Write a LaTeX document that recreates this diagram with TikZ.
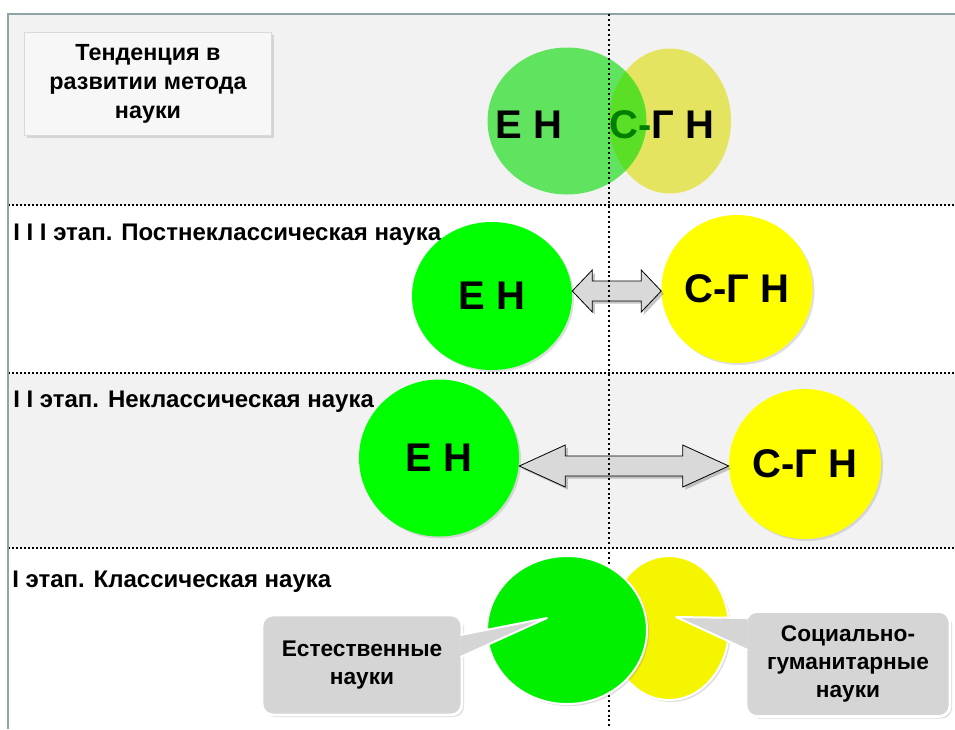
\documentclass[tikz,border=0pt]{standalone}
\usepackage{fontspec}
\setmainfont{Liberation Sans}
\usepackage{xcolor}
\usepackage{tikz}
\usetikzlibrary{calc}
\usetikzlibrary{shapes.geometric}
\usetikzlibrary{shadows}

\definecolor{rowgray}{HTML}{F2F2F2}
\definecolor{framegray}{HTML}{8CA5A5}
\definecolor{softgreen}{RGB}{0,220,0}
\definecolor{softyellow}{RGB}{220,220,0}
\definecolor{limegreen}{HTML}{00FF00}
\definecolor{puryellow}{HTML}{FFFF00}
\definecolor{arrowgray}{HTML}{D9D9D9}
\definecolor{boxgray}{HTML}{D5D5D5}
\definecolor{cgdark}{HTML}{007F00}

\newcommand{\twoway}[3]{
	\draw[blockarrow] (#1) -- ++(#3,-21) -- ++(0,11) -- ($(#2)+(-#3,-10)$) -- ++(0,-11) -- (#2) -- ++(-#3,21) -- ++(0,-11) -- ($(#1)+(#3,10)$) -- ++(0,11) -- cycle;}

\begin{document}
\begin{tikzpicture}[x = 0.75pt, y = -0.75pt,
	oval/.style 2 args = {ellipse, minimum width = #1*0.75pt, minimum height = #2*0.75pt, inner sep = 0pt},
	big/.style = {font = \fontsize{30}{36}\selectfont\bfseries},
	stage/.style = {anchor = north west, inner sep = 0pt, font = \fontsize{18}{21}\selectfont\bfseries},
	soft/.style = {drop shadow = {opacity = 0.25, shadow xshift = 1.5pt, shadow yshift = -1.5pt}},
	sepline/.style = {line width = 1.5pt, dash pattern = on 1.5pt off 1.5pt},
	midline/.style = {line width = 1.3pt, dash pattern = on 1.5pt off 2.2pt},
	blockarrow/.style = {draw = black, line width = 0.6pt, fill = arrowgray, drop shadow = {opacity = 0.45, shadow xshift = 2pt, shadow yshift = -2pt}},
	notebox/.style = {rounded corners = 8pt, fill = boxgray, draw = white, line width = 2.2pt, align = center, font = \fontsize{17}{21}\selectfont\bfseries, drop shadow = {opacity = 0.3, shadow xshift = 1.5pt, shadow yshift = -1.5pt}},
	tail/.style = {fill = boxgray, draw = white, line width = 1.5pt, line join = round}]
	\useasboundingbox (0,0) rectangle (955,729);
	% rows
	\foreach \ya/\yb/\tone in {14/205/rowgray, 205/373/white, 373/548/rowgray, 548/729/white}{
		\fill[\tone] (8,\ya) rectangle (955,\yb);}
	\foreach \y in {205, 373, 548}{
		\draw[sepline] (8,\y) -- (955,\y);}
	\draw[framegray, line width = 1.5pt] (8,729) -- (8,14) -- (955,14);
	% tendency
	\node[draw = black!15, fill = black!3, soft, minimum width = 247*0.75pt, minimum height = 103*0.75pt, align = center, font = \fontsize{17.5}{21.5}\selectfont\bfseries] (trend) at (148,84) {Тенденция в\\развитии метода\\науки};
	\node[oval = {122}{145}, fill = softyellow, fill opacity = 0.6] (sgtop) at (670,121) {};
	\node[oval = {159}{147}, fill = softgreen, fill opacity = 0.6] (entop) at (567,121) {};
	\node[big] (entoplbl) at (529,125) {Е Н};
	\node[big] (sgtoplbl) at (662,125) {\textcolor{cgdark}{С-}Г Н};
	% stage III
	\node[stage] (st3) at (13,224) {I I I этап. Постнеклассическая наука};
	\node[oval = {160}{148}, fill = limegreen, soft, big] (en3) at (492,296) {Е Н};
	\node[oval = {151}{148}, fill = puryellow, soft, big] (sg3) at (737,289) {С-Г Н};
	\coordinate (ax3) at (617,291);
	\twoway{en3.east |- ax3}{sg3.west |- ax3}{20}
	% stage II
	\node[stage] (st2) at (13,391) {I I этап. Неклассическая наука};
	\node[oval = {160}{157}, fill = limegreen, soft, big] (en2) at (439,458) {Е Н};
	\node[oval = {152}{150}, fill = puryellow, soft, big] (sg2) at (805,464) {С-Г Н};
	\coordinate (ax2) at (617,466);
	\twoway{en2.east |- ax2}{sg2.west |- ax2}{46}
	\draw[midline] (609,14) -- (609,729);
	% stage I
	\node[stage] (st1) at (12,571) {I этап. Классическая наука};
	\node[oval = {120}{144}, fill = puryellow!96!black, draw = white, line width = 1.5pt, soft] (sg1) at (669,628) {};
	\node[oval = {160}{148}, fill = limegreen!94!black, draw = white, line width = 1.5pt, soft] (en1) at (567,630) {};
	\node[notebox, minimum width = 200*0.75pt, minimum height = 100*0.75pt] (natbox) at (362,665) {Естественные\\науки};
	\node[notebox, minimum width = 204*0.75pt, minimum height = 105*0.75pt] (socbox) at (848,664) {Социально-\\гуманитарные\\науки};
	\coordinate (natpt) at (547,618);
	\coordinate (socpt) at (676,617);
	\filldraw[tail] ($(natbox.east)+(-3,-30)$) -- (natpt) -- ($(natbox.east)+(-3,-8)$);
	\filldraw[tail] ($(socbox.west)+(3,-46)$) -- (socpt) -- ($(socbox.west)+(3,-14)$);
	\end{tikzpicture}
\end{document}
